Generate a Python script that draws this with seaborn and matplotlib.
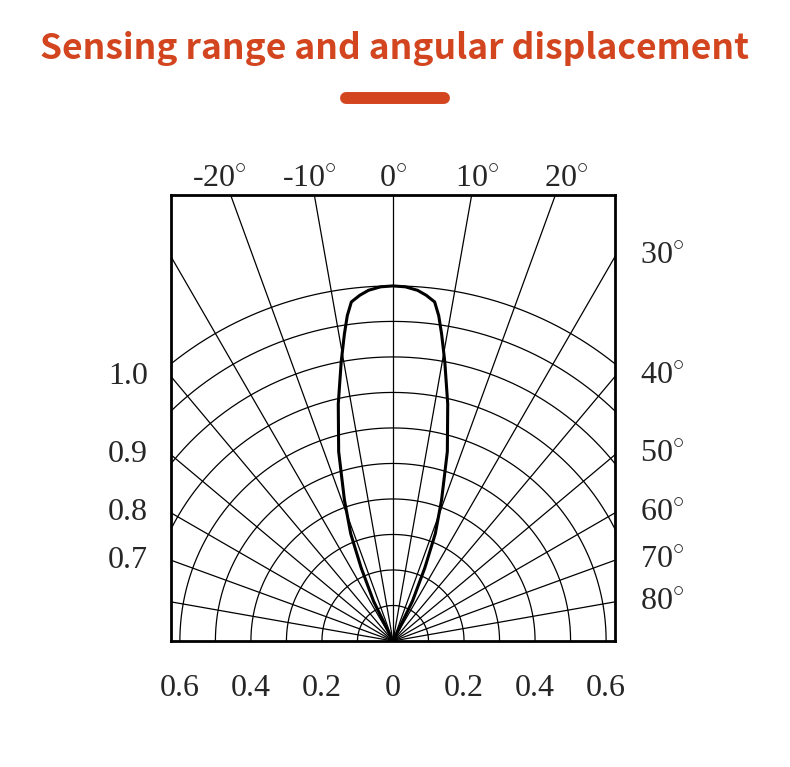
import numpy as np
import pandas as pd
import matplotlib
matplotlib.use("Agg")
import matplotlib.pyplot as plt
from matplotlib.lines import Line2D
import seaborn as sns

# Werte
lobe_angles = [0, 2, 4, 5.5, 7, 8, 9, 10.5, 13, 16, 19, 21.5, 23.5, 26, 28.5]
lobe_radius = [1.0, 0.998, 0.99, 0.978, 0.962, 0.925, 0.875, 0.80, 0.685, 0.555, 0.42, 0.325, 0.225, 0.125, 0.0]

ring_radii = [0.1, 0.2, 0.3, 0.4, 0.5, 0.6, 0.7, 0.8, 0.9, 1.0]
spoke_angles = [-80, -70, -60, -50, -40, -30, -20, -10, 0, 10, 20, 30, 40, 50, 60, 70, 80]

top_angles = [-20, -10, 0, 10, 20]
right_angles = [30, 40, 50, 60, 70, 80]
left_labels = ['1.0', '0.9', '0.8', '0.7']
left_angles = [40, 50, 60, 70]

x_ticks = [-0.6, -0.4, -0.2, 0, 0.2, 0.4, 0.6]
x_ticklabels = ['0.6', '0.4', '0.2', '0', '0.2', '0.4', '0.6']

title = 'Sensing range and angular displacement'
ORANGE = '#d2451f'

XMAX = 0.625
YMAX = 1.256
FS = 23

sns.set_theme(style='white')
plt.rcParams['font.family'] = ['Liberation Serif', 'DejaVu Serif']
plt.rcParams['mathtext.fontset'] = 'custom'
plt.rcParams['mathtext.rm'] = 'Liberation Serif'

fig = plt.figure(figsize=(7.9, 7.67), dpi=100)
ax = fig.add_axes([171 / 790, 126 / 767, 444 / 790, 446 / 767])

# Kreisboegen
phi = np.linspace(0, np.pi, 400)
for r in ring_radii:
    ax.plot(r * np.cos(phi), r * np.sin(phi), color='black', lw=0.9)

# Strahlen
for a in spoke_angles:
    t = np.radians(a)
    ax.plot([0, 3 * np.sin(t)], [0, 3 * np.cos(t)], color='black', lw=0.9)

# Richtcharakteristik (gespiegelt)
th = np.radians(np.array(lobe_angles))
rr = np.array(lobe_radius)
full_th = np.concatenate([-th[::-1], th[1:]])
full_r = np.concatenate([rr[::-1], rr[1:]])
lobe = pd.DataFrame({'x': full_r * np.sin(full_th), 'y': full_r * np.cos(full_th)})
sns.lineplot(data=lobe, x='x', y='y', sort=False, estimator=None, color='black', lw=2.2, ax=ax)

ax.set_xlim(-XMAX, XMAX)
ax.set_ylim(0, YMAX)
ax.set_xlabel('')
ax.set_ylabel('')
ax.set_xticks(x_ticks)
ax.set_xticklabels(x_ticklabels, fontsize=FS)
ax.tick_params(axis='x', length=0, pad=24)
ax.set_yticks([])
for s in ax.spines.values():
    s.set_visible(True)
    s.set_color('black')
    s.set_linewidth(2)

# Winkelbeschriftungen
for a in top_angles:
    xa = 1.34 * np.tan(np.radians(a))
    ax.text(xa, 1.30, f'{a}$^{{\\circ}}$', fontsize=FS, ha='center', va='center', clip_on=False)

for a in right_angles:
    ya = XMAX / np.tan(np.radians(a))
    ax.text(XMAX + 0.07, ya, f'{a}$^{{\\circ}}$', fontsize=FS, ha='left', va='center', clip_on=False)

for lab, a in zip(left_labels, left_angles):
    ya = XMAX / np.tan(np.radians(a))
    ax.text(-XMAX - 0.065, ya, lab, fontsize=FS, ha='right', va='center', clip_on=False)

fig.text(0.5, 1 - 48 / 767, title, fontsize=25.5, fontweight='bold', color=ORANGE,
         ha='center', va='center', family=['Noto Sans CJK SC', 'DejaVu Sans'])
fig.add_artist(Line2D([346 / 790, 444 / 790], [1 - 98 / 767, 1 - 98 / 767],
                      transform=fig.transFigure, color=ORANGE, lw=8.6, solid_capstyle='round'))

fig.savefig('out.png', dpi=100, facecolor='white')
